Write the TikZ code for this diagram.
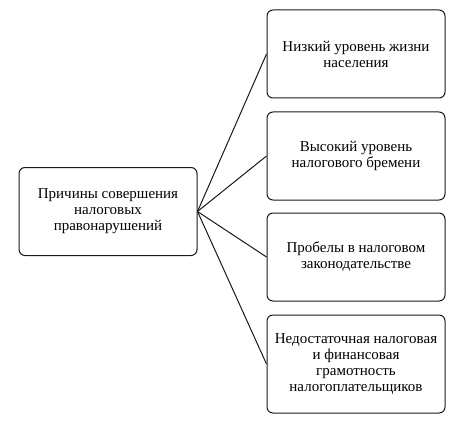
\documentclass[tikz,border=0pt]{standalone}
\usepackage{fontspec}
\setmainfont{Liberation Serif}
\definecolor{LineClr}{rgb}{0.1,0.1,0.1}

\begin{document}
\begin{tikzpicture}[x=1pt,y=1pt,
  Box/.style={draw=LineClr,line width=1pt,rounded corners=6pt,
    minimum width=178pt,minimum height=88pt,inner sep=2pt,
    align=center,font=\fontsize{15}{16}\selectfont},
  Link/.style={draw=LineClr,line width=1pt}]
\useasboundingbox (0,0) rectangle (454,421);

\node[Box] (P) at (108,209.5) {Причины совершения\\налоговых\\правонарушений};

\node[Box] (F1) at (356,367) {Низкий уровень жизни\\населения};
\node[Box] (F2) at (356,265) {Высокий уровень\\налогового бремени};
\node[Box] (F3) at (356,164) {Пробелы в налоговом\\законодательстве};
\node[Box,minimum height=98pt] (F4) at (356,57) {Недостаточная налоговая\\и финансовая\\грамотность\\налогоплательщиков};

\foreach \f in {F1,F2,F3,F4}
  \draw[Link] (P.east) -- (\f.west);

\end{tikzpicture}
\end{document}
